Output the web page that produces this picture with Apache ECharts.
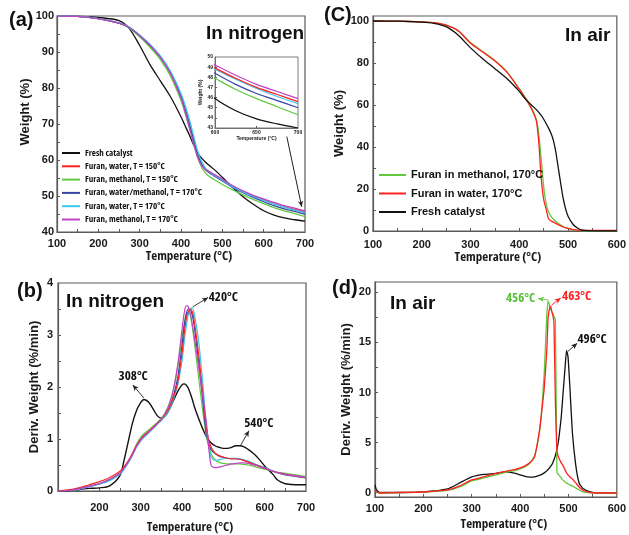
<!DOCTYPE html>
<html><head><meta charset="utf-8">
<script src="https://cdn.jsdelivr.net/npm/echarts@6/dist/echarts.min.js"></script>
<style>html,body{margin:0;padding:0;background:#fff}#chart{width:629px;height:535px}</style>
</head><body><div id="chart"></div>
<script>
// ---------- TGA in nitrogen (weight %, panel a + inset) ----------
const tgaN2Temp = [100,150,200,250,275,300,325,350,375,400,410,420,430,440,450,460,470,480,500,525,550,575,600,625,650,675,700];
const tgaN2Fresh    = [100,99.9,99.6,98.7,96.5,91.8,86.5,82.0,77.5,72.0,69.5,67.0,64.3,62.0,60.5,59.3,58.3,57.4,55.2,52.4,49.8,47.7,45.9,44.7,43.9,43.4,43.0];
const tgaN2Water150 = [100,99.9,99.3,98.0,96.8,94.5,91.8,88.5,84.0,77.5,74.0,70.2,66.0,62.0,59.2,57.5,56.6,55.9,54.4,52.6,51.1,49.9,48.9,47.9,47.0,46.3,45.6];
const tgaN2Meoh150  = [100,99.9,99.3,98.0,96.6,94.2,91.3,87.9,83.2,76.5,73.0,69.0,64.8,60.8,58.0,56.3,55.3,54.6,53.2,51.7,50.3,49.0,47.9,46.8,45.9,45.1,44.3];
const tgaN2Mix170   = [100,99.9,99.3,98.0,96.8,94.5,91.8,88.6,84.2,77.8,74.2,70.2,65.8,61.7,58.9,57.2,56.3,55.6,54.2,52.4,50.9,49.6,48.4,47.3,46.4,45.7,45.0];
const tgaN2Water170 = [100,99.9,99.3,98.1,96.9,94.7,92.1,88.9,84.6,78.5,75.2,71.4,67.0,62.6,59.5,57.6,56.5,55.8,54.4,52.6,51.1,49.9,48.8,47.8,46.9,46.1,45.4];
const tgaN2Meoh170  = [100,99.9,99.3,98.0,96.8,94.6,91.9,88.6,84.0,77.2,73.4,69.2,64.8,60.8,58.4,57.3,56.7,56.0,54.7,52.9,51.4,50.2,49.2,48.2,47.3,46.6,45.9];

// ---------- DTG in nitrogen (%/min, panel b) ----------
const dtgN2Temp = [100,125,150,175,200,225,250,260,270,280,290,300,308,320,330,340,350,360,370,380,390,400,405,410,415,420,425,430,440,450,460,470,480,490,500,510,520,530,540,550,560,570,580,590,600,610,620,630,640,650,675,700];
const dtgN2Fresh    = [0,0.01,0.03,0.05,0.06,0.1,0.3,0.6,0.95,1.3,1.55,1.7,1.76,1.7,1.58,1.45,1.4,1.45,1.58,1.75,1.92,2.04,2.06,2.04,1.98,1.88,1.76,1.62,1.4,1.2,1.03,0.93,0.87,0.84,0.82,0.82,0.84,0.87,0.87,0.85,0.8,0.74,0.67,0.58,0.48,0.4,0.32,0.22,0.17,0.14,0.12,0.12];
const dtgN2Water150 = [0,0.02,0.06,0.12,0.18,0.26,0.38,0.47,0.58,0.72,0.88,1.0,1.07,1.15,1.22,1.3,1.38,1.48,1.62,1.82,2.1,2.65,3.0,3.3,3.45,3.5,3.45,3.25,2.65,1.9,1.15,0.85,0.73,0.68,0.65,0.63,0.62,0.62,0.61,0.59,0.56,0.53,0.5,0.47,0.44,0.41,0.38,0.36,0.34,0.32,0.29,0.26];
const dtgN2Meoh150  = [0,0.01,0.04,0.09,0.14,0.22,0.34,0.44,0.57,0.72,0.9,1.03,1.1,1.18,1.25,1.32,1.4,1.52,1.7,1.98,2.4,2.95,3.2,3.38,3.44,3.38,3.15,2.85,2.2,1.55,1.0,0.72,0.6,0.55,0.53,0.52,0.52,0.52,0.52,0.51,0.5,0.48,0.46,0.44,0.42,0.4,0.38,0.36,0.35,0.34,0.31,0.28];
const dtgN2Mix170   = [0,0.01,0.04,0.09,0.14,0.22,0.34,0.44,0.56,0.7,0.86,0.98,1.05,1.14,1.21,1.29,1.37,1.47,1.62,1.85,2.2,2.8,3.15,3.4,3.5,3.49,3.38,3.15,2.5,1.75,1.05,0.8,0.72,0.67,0.65,0.63,0.62,0.62,0.61,0.59,0.56,0.53,0.5,0.47,0.44,0.41,0.38,0.35,0.33,0.31,0.28,0.25];
const dtgN2Water170 = [0,0.01,0.03,0.08,0.13,0.2,0.32,0.42,0.54,0.68,0.84,0.96,1.03,1.12,1.2,1.28,1.36,1.45,1.58,1.78,2.05,2.5,2.85,3.15,3.38,3.5,3.52,3.4,2.9,2.1,1.15,0.66,0.59,0.6,0.62,0.63,0.63,0.63,0.62,0.6,0.57,0.54,0.51,0.48,0.45,0.42,0.39,0.36,0.34,0.32,0.29,0.26];
const dtgN2Meoh170  = [0,0.01,0.04,0.09,0.14,0.22,0.34,0.44,0.56,0.7,0.86,0.98,1.05,1.14,1.21,1.29,1.38,1.5,1.68,1.98,2.45,3.1,3.4,3.56,3.55,3.42,3.2,2.95,2.4,1.85,1.25,0.5,0.45,0.46,0.48,0.5,0.52,0.53,0.54,0.54,0.53,0.51,0.49,0.46,0.44,0.41,0.38,0.36,0.34,0.32,0.29,0.26];

// ---------- TGA in air (weight %, panel c) ----------
const tgaAirTemp = [100,150,200,225,250,275,300,325,350,375,400,410,415,425,435,440,445,450,455,460,465,470,475,480,485,490,495,500,510,520,530,550,600];
const tgaAirFresh = [100,99.9,99.5,98.9,97.3,93.2,87.2,82.0,77.3,72.5,66.5,63.5,62.2,60.0,57.8,56.5,55.0,53.2,51.2,49.0,46.5,43.0,37.5,30.0,22.5,15.5,10.5,7.0,3.2,1.3,0.4,0.05,0];
const tgaAirWater = [100,99.9,99.6,99.2,98.0,95.3,89.4,85.2,81.0,75.5,67.5,64.0,62.2,58.2,52.4,42.0,25.0,15.0,10.5,5.8,4.8,4.2,3.6,3.0,2.4,1.9,1.5,1.2,0.7,0.4,0.3,0.3,0.3];
const tgaAirMeoh  = [100,99.9,99.6,99.2,98.0,95.4,89.8,85.5,81.2,75.8,67.8,64.3,62.8,58.8,53.0,46.0,34.0,21.0,13.0,9.0,7.0,5.6,4.5,3.6,2.8,2.1,1.6,1.2,0.6,0.3,0.15,0.05,0];

// ---------- DTG in air (%/min, panel d) ----------
const dtgAirTemp = [100,103,110,150,200,250,275,300,325,350,370,390,400,410,420,430,440,445,450,455,458,461,463,466,468,470,473,476,478,480,485,488,493,496,499,503,508,515,522,530,545,560,600];
const dtgAirFresh = [0.8,0.3,0.05,0.05,0.1,0.4,1.0,1.6,1.85,1.95,2.1,1.95,1.8,1.65,1.58,1.6,1.75,1.85,2.0,2.2,2.35,2.5,2.65,2.85,3.05,3.3,3.75,4.3,4.8,5.4,7.5,9.4,12.5,14.2,13.6,10.5,6.1,2.8,1.0,0.45,0.12,0.02,0];
const dtgAirWater = [0.3,0.1,0,0.05,0.1,0.3,0.7,1.3,1.6,1.95,2.15,2.35,2.5,2.7,3.0,3.6,6.2,8.2,10.5,14.0,17.5,18.4,18.6,18.0,17.6,17.0,9.0,4.3,3.8,3.5,3.0,2.8,2.3,2.0,1.8,1.6,1.4,1.0,0.6,0.25,0.05,0,0];
const dtgAirMeoh  = [0.3,0.1,0,0.03,0.08,0.25,0.6,1.2,1.5,1.8,2.05,2.25,2.4,2.6,2.95,3.7,6.0,8.5,12.0,17.5,19.1,18.7,18.3,18.0,17.8,17.6,17.2,2.2,1.9,1.8,1.5,1.3,1.1,1.0,0.9,0.8,0.7,0.5,0.3,0.12,0.02,0,0];

// ---------- names, colours ----------
const N2_NAMES = ['Fresh catalyst','Furan, water, T = 150°C','Furan, methanol, T = 150°C','Furan, water/methanol, T = 170°C','Furan, water, T = 170°C','Furan, methanol, T = 170°C'];
const N2_COLORS = ['#111111','#ff2020','#62c83e','#3645a6','#38c8ec','#c044c4'];
const AIR_NAMES = ['Furan in methanol, 170°C','Furan in water, 170°C','Fresh catalyst'];
const AIR_COLORS = ['#62c83e','#ff2020','#111111'];

const FONT = '"Liberation Sans", Arial, sans-serif';

// Horizontal captions use a condensed width when an installed family offers one.
function findCondensed(families) {
  const ctx = document.createElement('canvas').getContext('2d');
  const probe = 'Temperature WMabc 0123';
  for (const f of families) {
    ctx.font = `bold 20px "${f}"`;
    const normal = ctx.measureText(probe).width;
    ctx.font = `bold condensed 20px "${f}"`;
    const cond = ctx.measureText(probe).width;
    if (cond < normal * 0.93) return { family: `"${f}", ${FONT}`, weight: 'bold condensed' };
  }
  return null;
}
const COND = findCondensed(['Liberation Sans', 'Noto Sans', 'Open Sans', 'DejaVu Sans', 'Roboto', 'Inter', 'Lato']);
const NARROW = COND ? COND.family : FONT;
const NARROW_WEIGHT = COND ? COND.weight : 'bold';
const SIZE_CAPTION = COND ? 13 : 11;   // axis names along x, peak tags
const SIZE_LEGEND_A = COND ? 9 : 8;
const AXIS_COLOR = '#5a5a5a';

function pairs(xs, ys) { return xs.map((x, i) => [x, ys[i]]); }
function range(a, b, step) { const r = []; for (let v = a; v <= b + 1e-9; v += step) r.push(+v.toFixed(4)); return r; }

function lineSeries(name, idx, xs, ys, color, width, extra) {
  return Object.assign({
    type: 'line', name, xAxisIndex: idx, yAxisIndex: idx,
    data: pairs(xs, ys), symbol: 'none', showSymbol: false,
    smooth: 0.3, clip: true, silent: true,
    lineStyle: { color, width: width || 1.3 }, itemStyle: { color },
    emphasis: { disabled: true }
  }, extra || {});
}

function valueAxis(idx, min, max, labelVals, tickVals, o) {
  o = o || {};
  return {
    type: 'value', gridIndex: idx, min, max,
    splitLine: { show: false },
    axisLine: { show: true, onZero: false, lineStyle: { color: AXIS_COLOR, width: o.lw || 1.2 } },
    axisTick: { show: true, inside: true, length: o.tickLen || 3, customValues: tickVals, lineStyle: { color: AXIS_COLOR, width: 1 } },
    axisLabel: { show: true, customValues: labelVals, margin: o.margin || 4, fontFamily: FONT, fontWeight: 'bold', fontSize: o.fs || 11, color: '#1a1a1a' },
    name: o.name || '', nameLocation: 'middle', nameGap: o.nameGap || 20,
    nameTextStyle: { fontFamily: o.nff || FONT, fontWeight: o.nfw || 'bold', fontSize: o.nfs || 13, color: '#1a1a1a', padding: o.pad || 0 }
  };
}

// annotation arrow: from a point on the curve towards its label
function arrow(from, to, color) {
  return [{ coord: from, symbol: 'none' }, { coord: to, symbol: 'arrow', symbolSize: [4, 6], lineStyle: { color: color || '#222' } }];
}
function tag(coord, text, color) {
  return { coord, symbol: 'circle', symbolSize: 0, label: { show: true, position: 'inside', formatter: text, color: color || '#111', fontFamily: NARROW, fontWeight: NARROW_WEIGHT, fontSize: SIZE_CAPTION } };
}

const series = [];
// panel a
const tgaN2 = [tgaN2Fresh, tgaN2Water150, tgaN2Meoh150, tgaN2Mix170, tgaN2Water170, tgaN2Meoh170];
tgaN2.forEach((ys, i) => series.push(lineSeries(N2_NAMES[i], 0, tgaN2Temp, ys, N2_COLORS[i])));
series[0].markLine = { silent: true, symbol: ['none', 'arrow'], label: { show: false }, lineStyle: { color: '#222', width: 1, type: 'solid' }, data: [arrow([656, 66.5], [692, 47.0])] };
// inset of panel a (600-700 °C)
tgaN2.slice().reverse().forEach((ys, k) => { const i = tgaN2.length - 1 - k; series.push(lineSeries(N2_NAMES[i], 4, tgaN2Temp, ys, N2_COLORS[i], 1.2)); });
// panel b
const dtgN2 = [dtgN2Fresh, dtgN2Water150, dtgN2Meoh150, dtgN2Mix170, dtgN2Water170, dtgN2Meoh170];
const dtgOrder = [0, 2, 3, 4, 1, 5];
dtgOrder.forEach(i => series.push(lineSeries(N2_NAMES[i], 1, dtgN2Temp, dtgN2[i], N2_COLORS[i], i === 0 ? 1.4 : 1.2)));
series.push({
  type: 'line', xAxisIndex: 1, yAxisIndex: 1, data: [], silent: true,
  markLine: { silent: true, symbol: ['none', 'arrow'], label: { show: false }, lineStyle: { color: '#222', width: 0.9, type: 'solid' },
    data: [arrow([307.5, 1.79], [281, 2.04]), arrow([426, 3.54], [463, 3.72]), arrow([542, 0.88], [562, 1.16])] },
  markPoint: { silent: true, data: [tag([282, 2.2], '308°C'), tag([500, 3.73], '420°C'), tag([586, 1.31], '540°C')] }
});
// panel c
const tgaAir = [tgaAirMeoh, tgaAirWater, tgaAirFresh];
tgaAir.forEach((ys, i) => series.push(lineSeries(AIR_NAMES[i], 2, tgaAirTemp, ys, AIR_COLORS[i], 1.3, { smooth: 0.2 })));
// panel d
const dtgAir = [dtgAirMeoh, dtgAirWater, dtgAirFresh];
[2, 0, 1].forEach(i => series.push(lineSeries(AIR_NAMES[i], 3, dtgAirTemp, dtgAir[i], AIR_COLORS[i], 1.3, { smooth: 0.15 })));
series.push({
  type: 'line', xAxisIndex: 3, yAxisIndex: 3, data: [], silent: true,
  markLine: { silent: true, symbol: ['none', 'arrow'], label: { show: false }, lineStyle: { width: 0.9, type: 'solid', color: '#222' },
    data: [arrow([458, 19.2], [437, 19.35], '#62c83e'), arrow([465, 18.7], [484, 19.4], '#ff2020'), arrow([499, 14.1], [518, 14.9], '#222')] },
  markPoint: { silent: true, data: [tag([401, 19.4], '456°C', '#55c035'), tag([517, 19.6], '463°C', '#ff2020'), tag([549, 15.3], '496°C', '#111')] }
});

const grid = [
  { left: 57, top: 16, width: 248, height: 216 },
  { left: 58, top: 283, width: 248, height: 217 },
  { left: 373, top: 16, width: 247, height: 215 },
  { left: 375, top: 282, width: 247, height: 215 },
  { left: 215, top: 57, width: 83, height: 71, backgroundColor: '#fff' }
].map(g => Object.assign({ show: true, borderColor: AXIS_COLOR, borderWidth: 1.2, containLabel: false }, g));
grid[4].borderWidth = 0.8;

const TEMP_NAME = 'Temperature (°C)';
const tName = { nff: NARROW, nfw: NARROW_WEIGHT, nfs: SIZE_CAPTION };
const xAxis = [
  valueAxis(0, 100, 700, range(100, 700, 100), range(150, 650, 50), Object.assign({ margin: 6, name: TEMP_NAME, nameGap: 15, pad: [0, 0, 0, 16] }, tName)),
  valueAxis(1, 100, 700, range(200, 700, 100), range(150, 650, 50), Object.assign({ margin: 11, name: TEMP_NAME, nameGap: 30, pad: [0, 0, 0, 16] }, tName)),
  valueAxis(2, 100, 600, range(100, 600, 100), range(150, 550, 50), Object.assign({ margin: 8, name: TEMP_NAME, nameGap: 20, pad: [0, 0, 0, 6] }, tName)),
  valueAxis(3, 100, 600, range(100, 600, 100), range(150, 550, 50), Object.assign({ margin: 6, name: TEMP_NAME, nameGap: 21, pad: [0, 0, 0, 16] }, tName)),
  valueAxis(4, 600, 700, [600, 650, 700], [650], { margin: 2, fs: 5, name: TEMP_NAME, nfs: 5, nameGap: 7, lw: 0.8, tickLen: 2 })
];
const yAxis = [
  valueAxis(0, 40, 100, range(40, 100, 10), range(45, 95, 5), { margin: 3, name: 'Weight (%)', nameGap: 24, pad: [0, 0, 0, 24] }),
  valueAxis(1, 0, 4, range(0, 4, 1), range(0.5, 3.5, 0.5), { margin: 5, name: 'Deriv. Weight (%/min)', nameGap: 17 }),
  valueAxis(2, 0, 102.38, range(0, 100, 20), range(10, 100, 10), { margin: 4, name: 'Weight (%)', nameGap: 27 }),
  valueAxis(3, -0.4, 21, range(0, 20, 5), range(2.5, 20, 2.5), { margin: 4, name: 'Deriv. Weight (%/min)', nameGap: 22 }),
  valueAxis(4, 43, 50, range(43, 50, 1), range(44, 49, 1), { margin: 2, fs: 5, name: 'Weight (%)', nfs: 5, nameGap: 9, lw: 0.8, tickLen: 2 })
];

function title(text, x, y, size) {
  return { type: 'text', x, y, z: 100, style: { text, fill: '#111', font: `bold ${size}px ${FONT}`, textVerticalAlign: 'top' } };
}

const option = {
  animation: false,
  backgroundColor: '#fff',
  grid, xAxis, yAxis, series,
  legend: [
    { data: N2_NAMES, orient: 'vertical', left: 57, top: 142, itemWidth: 18, itemHeight: 2, icon: 'rect', itemGap: 1.3,
      textStyle: { fontFamily: NARROW, fontWeight: NARROW_WEIGHT, fontSize: SIZE_LEGEND_A, color: '#111', lineHeight: 12 }, selectedMode: false },
    { data: AIR_NAMES, orient: 'vertical', left: 374, top: 163, itemWidth: 27, itemHeight: 2, icon: 'rect', itemGap: 4.5,
      textStyle: { fontFamily: FONT, fontWeight: 'bold', fontSize: 11, color: '#111', lineHeight: 14 }, selectedMode: false }
  ],
  graphic: [
    title('(a)', 9, 10, 20), title('In nitrogen', 206, 24, 19),
    title('(C)', 324, 5, 20), title('In air', 565, 26, 19),
    title('(b)', 17, 281, 20), title('In nitrogen', 66, 292, 19),
    title('(d)', 332, 278, 20), title('In air', 390, 294, 19)
  ]
};

const chart = echarts.init(document.getElementById('chart'), null, { renderer: 'canvas' });
chart.setOption(option);
</script>
</body></html>
